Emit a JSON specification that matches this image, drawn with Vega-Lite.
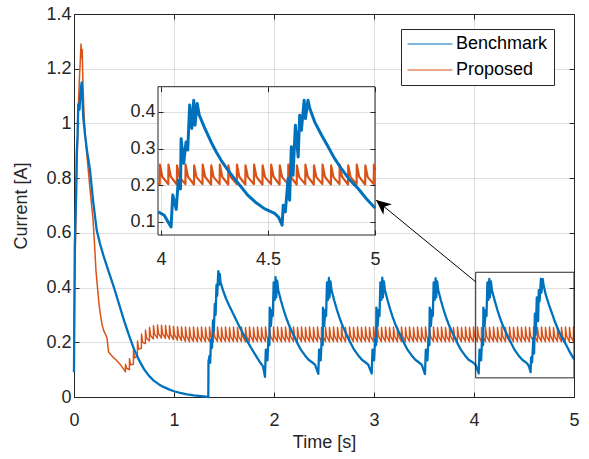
{
"$schema":"https://vega.github.io/schema/vega-lite/v6.json",
"width":500,"height":383,
"autosize":{"type":"none"},
"padding":{"left":74,"top":14,"right":15,"bottom":62},
"background":"white",
"config":{"font":"Liberation Sans","view":{"stroke":"#262626","strokeWidth":1}},
"datasets":{
"bench":[
{"t":0,"v":0.09},{"t":0.004,"v":0.35},{"t":0.008,"v":0.55},{"t":0.012,"v":0.62},{"t":0.02,"v":0.72},{"t":0.027,"v":0.89},{"t":0.035,"v":0.95},{"t":0.043,"v":1.07},{"t":0.055,"v":1.05},{"t":0.065,"v":1.12},{"t":0.077,"v":1.15},{"t":0.085,"v":1.08},{"t":0.093,"v":1.02},{"t":0.11,"v":0.96},{"t":0.13,"v":0.9},{"t":0.16,"v":0.83},{"t":0.19,"v":0.72},{"t":0.227,"v":0.61},{"t":0.26,"v":0.56},{"t":0.3,"v":0.51},{"t":0.35,"v":0.455},{"t":0.4,"v":0.4},{"t":0.45,"v":0.34},{"t":0.5,"v":0.28},{"t":0.55,"v":0.225},{"t":0.6,"v":0.175},{"t":0.65,"v":0.135},{"t":0.7,"v":0.102},{"t":0.75,"v":0.077},{"t":0.8,"v":0.059},{"t":0.85,"v":0.046},{"t":0.9,"v":0.036},{"t":0.95,"v":0.028},{"t":1.0,"v":0.021},{"t":1.06,"v":0.015},{"t":1.13,"v":0.01},{"t":1.2,"v":0.006},{"t":1.27,"v":0.003},{"t":1.343,"v":0.0},
{"t":1.345,"v":0.13},{"t":1.355,"v":0.15},{"t":1.362,"v":0.125},{"t":1.37,"v":0.21},{"t":1.38,"v":0.18},{"t":1.39,"v":0.28},{"t":1.398,"v":0.24},{"t":1.408,"v":0.34},{"t":1.416,"v":0.3},{"t":1.425,"v":0.41},{"t":1.432,"v":0.37},{"t":1.443,"v":0.46},{"t":1.45,"v":0.41},{"t":1.458,"v":0.45},{"t":1.465,"v":0.42},{"t":1.49,"v":0.39},{"t":1.52,"v":0.36},{"t":1.55,"v":0.335},{"t":1.593,"v":0.303},{"t":1.64,"v":0.268},{"t":1.69,"v":0.232},{"t":1.727,"v":0.208},{"t":1.77,"v":0.18},{"t":1.82,"v":0.15},{"t":1.86,"v":0.127},{"t":1.89,"v":0.112},
{"t":1.91,"v":0.074},{"t":1.918,"v":0.173},{"t":1.934,"v":0.134},{"t":1.944,"v":0.214},{"t":1.954,"v":0.19},{"t":1.957,"v":0.327},{"t":1.969,"v":0.26},{"t":1.98,"v":0.318},{"t":1.988,"v":0.296},{"t":1.997,"v":0.419},{"t":2.007,"v":0.355},{"t":2.016,"v":0.438},{"t":2.022,"v":0.364},{"t":2.032,"v":0.425},{"t":2.042,"v":0.391},{"t":2.07,"v":0.352},{"t":2.097,"v":0.318},{"t":2.12,"v":0.292},{"t":2.144,"v":0.268},{"t":2.175,"v":0.242},{"t":2.206,"v":0.218},{"t":2.237,"v":0.195},{"t":2.268,"v":0.173},{"t":2.31,"v":0.152},{"t":2.346,"v":0.136},{"t":2.38,"v":0.127},{"t":2.41,"v":0.118},
{"t":2.443,"v":0.085},{"t":2.451,"v":0.173},{"t":2.467,"v":0.134},{"t":2.477,"v":0.214},{"t":2.487,"v":0.19},{"t":2.49,"v":0.327},{"t":2.502,"v":0.26},{"t":2.513,"v":0.318},{"t":2.521,"v":0.296},{"t":2.53,"v":0.419},{"t":2.54,"v":0.355},{"t":2.549,"v":0.435},{"t":2.555,"v":0.364},{"t":2.565,"v":0.423},{"t":2.575,"v":0.391},{"t":2.603,"v":0.352},{"t":2.63,"v":0.318},{"t":2.653,"v":0.292},{"t":2.677,"v":0.268},{"t":2.708,"v":0.242},{"t":2.739,"v":0.218},{"t":2.77,"v":0.195},{"t":2.801,"v":0.173},{"t":2.843,"v":0.152},{"t":2.879,"v":0.136},{"t":2.913,"v":0.127},{"t":2.943,"v":0.118},
{"t":2.977,"v":0.086},{"t":2.985,"v":0.173},{"t":3.001,"v":0.134},{"t":3.011,"v":0.214},{"t":3.021,"v":0.19},{"t":3.024,"v":0.327},{"t":3.036,"v":0.26},{"t":3.047,"v":0.318},{"t":3.055,"v":0.296},{"t":3.064,"v":0.419},{"t":3.074,"v":0.355},{"t":3.083,"v":0.436},{"t":3.089,"v":0.364},{"t":3.099,"v":0.423},{"t":3.109,"v":0.391},{"t":3.137,"v":0.352},{"t":3.164,"v":0.318},{"t":3.187,"v":0.292},{"t":3.211,"v":0.268},{"t":3.242,"v":0.242},{"t":3.273,"v":0.218},{"t":3.304,"v":0.195},{"t":3.335,"v":0.173},{"t":3.377,"v":0.152},{"t":3.413,"v":0.136},{"t":3.447,"v":0.127},{"t":3.477,"v":0.118},
{"t":3.51,"v":0.084},{"t":3.518,"v":0.173},{"t":3.534,"v":0.134},{"t":3.544,"v":0.214},{"t":3.554,"v":0.19},{"t":3.557,"v":0.327},{"t":3.569,"v":0.26},{"t":3.58,"v":0.318},{"t":3.588,"v":0.296},{"t":3.597,"v":0.419},{"t":3.607,"v":0.355},{"t":3.616,"v":0.434},{"t":3.622,"v":0.364},{"t":3.632,"v":0.423},{"t":3.642,"v":0.391},{"t":3.67,"v":0.352},{"t":3.697,"v":0.318},{"t":3.72,"v":0.292},{"t":3.744,"v":0.268},{"t":3.775,"v":0.242},{"t":3.806,"v":0.218},{"t":3.837,"v":0.195},{"t":3.868,"v":0.173},{"t":3.91,"v":0.152},{"t":3.946,"v":0.136},{"t":3.987,"v":0.127},{"t":4.015,"v":0.118},
{"t":4.047,"v":0.086},{"t":4.055,"v":0.173},{"t":4.071,"v":0.134},{"t":4.081,"v":0.214},{"t":4.091,"v":0.19},{"t":4.094,"v":0.327},{"t":4.106,"v":0.26},{"t":4.117,"v":0.318},{"t":4.125,"v":0.296},{"t":4.134,"v":0.419},{"t":4.144,"v":0.355},{"t":4.153,"v":0.432},{"t":4.159,"v":0.364},{"t":4.169,"v":0.423},{"t":4.179,"v":0.391},{"t":4.205,"v":0.355},{"t":4.234,"v":0.318},{"t":4.257,"v":0.292},{"t":4.281,"v":0.268},{"t":4.31,"v":0.243},{"t":4.343,"v":0.218},{"t":4.375,"v":0.195},{"t":4.405,"v":0.173},{"t":4.445,"v":0.152},{"t":4.483,"v":0.136},{"t":4.531,"v":0.123},{"t":4.55,"v":0.112},{"t":4.566,"v":0.091},
{"t":4.571,"v":0.145},{"t":4.581,"v":0.127},{"t":4.594,"v":0.218},{"t":4.601,"v":0.159},{"t":4.609,"v":0.305},{"t":4.617,"v":0.227},{"t":4.628,"v":0.364},{"t":4.641,"v":0.277},{"t":4.648,"v":0.391},{"t":4.656,"v":0.35},{"t":4.669,"v":0.432},{"t":4.675,"v":0.382},{"t":4.687,"v":0.432},{"t":4.695,"v":0.41},{"t":4.718,"v":0.373},{"t":4.75,"v":0.337},{"t":4.781,"v":0.305},{"t":4.81,"v":0.274},{"t":4.843,"v":0.245},{"t":4.88,"v":0.216},{"t":4.921,"v":0.191},{"t":4.96,"v":0.163},{"t":5.0,"v":0.138}
],
"prop":[
{"t":0,"v":0.13},{"t":0.004,"v":0.3},{"t":0.01,"v":0.48},{"t":0.018,"v":0.62},{"t":0.026,"v":0.8},{"t":0.035,"v":0.92},{"t":0.045,"v":1.08},{"t":0.055,"v":1.17},{"t":0.062,"v":1.22},{"t":0.07,"v":1.29},{"t":0.076,"v":1.24},{"t":0.082,"v":1.27},{"t":0.09,"v":1.14},{"t":0.1,"v":1.04},{"t":0.11,"v":0.97},{"t":0.13,"v":0.88},{"t":0.16,"v":0.76},{"t":0.19,"v":0.65},{"t":0.205,"v":0.56},{"t":0.22,"v":0.46},{"t":0.235,"v":0.4},{"t":0.25,"v":0.34},{"t":0.265,"v":0.3},{"t":0.28,"v":0.265},{"t":0.3,"v":0.24},{"t":0.32,"v":0.225},{"t":0.33,"v":0.215},{"t":0.338,"v":0.19},{"t":0.345,"v":0.165},{"t":0.36,"v":0.158},{"t":0.38,"v":0.15},{"t":0.4,"v":0.142},{"t":0.42,"v":0.136},{"t":0.44,"v":0.128},{"t":0.46,"v":0.12},{"t":0.48,"v":0.11},{"t":0.5,"v":0.1},
{"t":0.514,"v":0.092},{"t":0.515,"v":0.12},{"t":0.526,"v":0.105},
{"t":0.554,"v":0.1},{"t":0.555,"v":0.14},{"t":0.566,"v":0.118},
{"t":0.594,"v":0.12},{"t":0.595,"v":0.17},{"t":0.606,"v":0.143},
{"t":0.634,"v":0.15},{"t":0.635,"v":0.205},{"t":0.646,"v":0.175},
{"t":0.674,"v":0.178},{"t":0.675,"v":0.23},{"t":0.686,"v":0.2},
{"t":0.714,"v":0.195},{"t":0.715,"v":0.245},{"t":0.726,"v":0.215},
{"t":0.754,"v":0.205},{"t":0.755,"v":0.255},{"t":0.766,"v":0.225},
{"t":0.794,"v":0.212},{"t":0.795,"v":0.26},{"t":0.806,"v":0.23},
{"t":0.834,"v":0.215},{"t":0.835,"v":0.263},{"t":0.846,"v":0.232},
{"t":0.874,"v":0.215},{"t":0.875,"v":0.262},{"t":0.886,"v":0.232},
{"t":0.914,"v":0.214},{"t":0.915,"v":0.261},{"t":0.926,"v":0.231},
{"t":0.954,"v":0.212},{"t":0.955,"v":0.26},{"t":0.966,"v":0.229},
{"t":0.994,"v":0.21},{"t":0.995,"v":0.258},{"t":1.006,"v":0.227},
{"t":1.034,"v":0.208},{"t":1.035,"v":0.257},{"t":1.046,"v":0.226},
{"t":1.074,"v":0.206},{"t":1.075,"v":0.256},{"t":1.086,"v":0.225},
{"t":1.114,"v":0.203},{"t":1.115,"v":0.256},{"t":1.126,"v":0.223},
{"t":1.154,"v":0.202},{"t":1.155,"v":0.254},{"t":1.166,"v":0.222},
{"t":1.194,"v":0.203},{"t":1.195,"v":0.256},{"t":1.206,"v":0.223},
{"t":1.234,"v":0.202},{"t":1.235,"v":0.254},{"t":1.246,"v":0.222},
{"t":1.274,"v":0.203},{"t":1.275,"v":0.256},{"t":1.286,"v":0.223},
{"t":1.314,"v":0.202},{"t":1.315,"v":0.254},{"t":1.326,"v":0.222},
{"t":1.354,"v":0.203},{"t":1.355,"v":0.256},{"t":1.366,"v":0.223},
{"t":1.394,"v":0.202},{"t":1.395,"v":0.254},{"t":1.406,"v":0.222},
{"t":1.434,"v":0.203},{"t":1.435,"v":0.256},{"t":1.446,"v":0.223},
{"t":1.474,"v":0.202},{"t":1.475,"v":0.254},{"t":1.486,"v":0.222},
{"t":1.514,"v":0.203},{"t":1.515,"v":0.256},{"t":1.526,"v":0.223},
{"t":1.554,"v":0.202},{"t":1.555,"v":0.254},{"t":1.566,"v":0.222},
{"t":1.594,"v":0.203},{"t":1.595,"v":0.256},{"t":1.606,"v":0.223},
{"t":1.634,"v":0.202},{"t":1.635,"v":0.254},{"t":1.646,"v":0.222},
{"t":1.674,"v":0.203},{"t":1.675,"v":0.256},{"t":1.686,"v":0.223},
{"t":1.714,"v":0.202},{"t":1.715,"v":0.254},{"t":1.726,"v":0.222},
{"t":1.754,"v":0.203},{"t":1.755,"v":0.256},{"t":1.766,"v":0.223},
{"t":1.794,"v":0.202},{"t":1.795,"v":0.254},{"t":1.806,"v":0.222},
{"t":1.834,"v":0.203},{"t":1.835,"v":0.256},{"t":1.846,"v":0.223},
{"t":1.874,"v":0.202},{"t":1.875,"v":0.254},{"t":1.886,"v":0.222},
{"t":1.914,"v":0.203},{"t":1.915,"v":0.256},{"t":1.926,"v":0.223},
{"t":1.954,"v":0.202},{"t":1.955,"v":0.254},{"t":1.966,"v":0.222},
{"t":1.994,"v":0.203},{"t":1.995,"v":0.256},{"t":2.006,"v":0.223},
{"t":2.034,"v":0.203},{"t":2.035,"v":0.256},{"t":2.046,"v":0.223},
{"t":2.074,"v":0.202},{"t":2.075,"v":0.254},{"t":2.086,"v":0.222},
{"t":2.114,"v":0.203},{"t":2.115,"v":0.256},{"t":2.126,"v":0.223},
{"t":2.154,"v":0.202},{"t":2.155,"v":0.254},{"t":2.166,"v":0.222},
{"t":2.194,"v":0.203},{"t":2.195,"v":0.256},{"t":2.206,"v":0.223},
{"t":2.234,"v":0.202},{"t":2.235,"v":0.254},{"t":2.246,"v":0.222},
{"t":2.274,"v":0.203},{"t":2.275,"v":0.256},{"t":2.286,"v":0.223},
{"t":2.314,"v":0.202},{"t":2.315,"v":0.254},{"t":2.326,"v":0.222},
{"t":2.354,"v":0.203},{"t":2.355,"v":0.256},{"t":2.366,"v":0.223},
{"t":2.394,"v":0.202},{"t":2.395,"v":0.254},{"t":2.406,"v":0.222},
{"t":2.434,"v":0.203},{"t":2.435,"v":0.256},{"t":2.446,"v":0.223},
{"t":2.474,"v":0.202},{"t":2.475,"v":0.254},{"t":2.486,"v":0.222},
{"t":2.514,"v":0.203},{"t":2.515,"v":0.256},{"t":2.526,"v":0.223},
{"t":2.554,"v":0.202},{"t":2.555,"v":0.254},{"t":2.566,"v":0.222},
{"t":2.594,"v":0.203},{"t":2.595,"v":0.256},{"t":2.606,"v":0.223},
{"t":2.634,"v":0.202},{"t":2.635,"v":0.254},{"t":2.646,"v":0.222},
{"t":2.674,"v":0.203},{"t":2.675,"v":0.256},{"t":2.686,"v":0.223},
{"t":2.714,"v":0.202},{"t":2.715,"v":0.254},{"t":2.726,"v":0.222},
{"t":2.754,"v":0.203},{"t":2.755,"v":0.256},{"t":2.766,"v":0.223},
{"t":2.794,"v":0.202},{"t":2.795,"v":0.254},{"t":2.806,"v":0.222},
{"t":2.834,"v":0.203},{"t":2.835,"v":0.256},{"t":2.846,"v":0.223},
{"t":2.874,"v":0.202},{"t":2.875,"v":0.254},{"t":2.886,"v":0.222},
{"t":2.914,"v":0.203},{"t":2.915,"v":0.256},{"t":2.926,"v":0.223},
{"t":2.954,"v":0.202},{"t":2.955,"v":0.254},{"t":2.966,"v":0.222},
{"t":2.994,"v":0.203},{"t":2.995,"v":0.256},{"t":3.006,"v":0.223},
{"t":3.034,"v":0.203},{"t":3.035,"v":0.256},{"t":3.046,"v":0.223},
{"t":3.074,"v":0.202},{"t":3.075,"v":0.254},{"t":3.086,"v":0.222},
{"t":3.114,"v":0.203},{"t":3.115,"v":0.256},{"t":3.126,"v":0.223},
{"t":3.154,"v":0.202},{"t":3.155,"v":0.254},{"t":3.166,"v":0.222},
{"t":3.194,"v":0.203},{"t":3.195,"v":0.256},{"t":3.206,"v":0.223},
{"t":3.234,"v":0.202},{"t":3.235,"v":0.254},{"t":3.246,"v":0.222},
{"t":3.274,"v":0.203},{"t":3.275,"v":0.256},{"t":3.286,"v":0.223},
{"t":3.314,"v":0.202},{"t":3.315,"v":0.254},{"t":3.326,"v":0.222},
{"t":3.354,"v":0.203},{"t":3.355,"v":0.256},{"t":3.366,"v":0.223},
{"t":3.394,"v":0.202},{"t":3.395,"v":0.254},{"t":3.406,"v":0.222},
{"t":3.434,"v":0.203},{"t":3.435,"v":0.256},{"t":3.446,"v":0.223},
{"t":3.474,"v":0.202},{"t":3.475,"v":0.254},{"t":3.486,"v":0.222},
{"t":3.514,"v":0.203},{"t":3.515,"v":0.256},{"t":3.526,"v":0.223},
{"t":3.554,"v":0.202},{"t":3.555,"v":0.254},{"t":3.566,"v":0.222},
{"t":3.594,"v":0.203},{"t":3.595,"v":0.256},{"t":3.606,"v":0.223},
{"t":3.634,"v":0.202},{"t":3.635,"v":0.254},{"t":3.646,"v":0.222},
{"t":3.674,"v":0.203},{"t":3.675,"v":0.256},{"t":3.686,"v":0.223},
{"t":3.714,"v":0.202},{"t":3.715,"v":0.254},{"t":3.726,"v":0.222},
{"t":3.754,"v":0.203},{"t":3.755,"v":0.256},{"t":3.766,"v":0.223},
{"t":3.794,"v":0.202},{"t":3.795,"v":0.254},{"t":3.806,"v":0.222},
{"t":3.834,"v":0.203},{"t":3.835,"v":0.256},{"t":3.846,"v":0.223},
{"t":3.874,"v":0.202},{"t":3.875,"v":0.254},{"t":3.886,"v":0.222},
{"t":3.914,"v":0.203},{"t":3.915,"v":0.256},{"t":3.926,"v":0.223},
{"t":3.954,"v":0.202},{"t":3.955,"v":0.254},{"t":3.966,"v":0.222},{"t":3.986,"v":0.206},
{"t":3.994,"v":0.203},{"t":3.995,"v":0.256},{"t":4.006,"v":0.223},
{"t":4.034,"v":0.203},{"t":4.035,"v":0.256},{"t":4.046,"v":0.223},
{"t":4.074,"v":0.202},{"t":4.075,"v":0.254},{"t":4.086,"v":0.222},
{"t":4.114,"v":0.203},{"t":4.115,"v":0.256},{"t":4.126,"v":0.223},
{"t":4.154,"v":0.202},{"t":4.155,"v":0.254},{"t":4.166,"v":0.222},
{"t":4.194,"v":0.203},{"t":4.195,"v":0.256},{"t":4.206,"v":0.223},
{"t":4.234,"v":0.202},{"t":4.235,"v":0.254},{"t":4.246,"v":0.222},
{"t":4.274,"v":0.203},{"t":4.275,"v":0.256},{"t":4.286,"v":0.223},
{"t":4.314,"v":0.202},{"t":4.315,"v":0.254},{"t":4.326,"v":0.222},
{"t":4.354,"v":0.203},{"t":4.355,"v":0.256},{"t":4.366,"v":0.223},
{"t":4.394,"v":0.202},{"t":4.395,"v":0.254},{"t":4.406,"v":0.222},
{"t":4.434,"v":0.203},{"t":4.435,"v":0.256},{"t":4.446,"v":0.223},
{"t":4.474,"v":0.202},{"t":4.475,"v":0.254},{"t":4.486,"v":0.222},
{"t":4.514,"v":0.203},{"t":4.515,"v":0.256},{"t":4.526,"v":0.223},
{"t":4.554,"v":0.202},{"t":4.555,"v":0.254},{"t":4.566,"v":0.222},
{"t":4.594,"v":0.203},{"t":4.595,"v":0.256},{"t":4.606,"v":0.223},
{"t":4.634,"v":0.202},{"t":4.635,"v":0.254},{"t":4.646,"v":0.222},
{"t":4.674,"v":0.203},{"t":4.675,"v":0.256},{"t":4.686,"v":0.223},
{"t":4.714,"v":0.202},{"t":4.715,"v":0.254},{"t":4.726,"v":0.222},
{"t":4.754,"v":0.203},{"t":4.755,"v":0.256},{"t":4.766,"v":0.223},
{"t":4.794,"v":0.202},{"t":4.795,"v":0.254},{"t":4.806,"v":0.222},
{"t":4.834,"v":0.203},{"t":4.835,"v":0.256},{"t":4.846,"v":0.223},
{"t":4.874,"v":0.202},{"t":4.875,"v":0.254},{"t":4.886,"v":0.222},
{"t":4.914,"v":0.203},{"t":4.915,"v":0.256},{"t":4.926,"v":0.223},
{"t":4.954,"v":0.202},{"t":4.955,"v":0.254},{"t":4.966,"v":0.222},
{"t":4.994,"v":0.203},{"t":4.995,"v":0.256},{"t":5.0,"v":0.24}
],
"zoombox":[{"t":4.017,"t2":5,"v":0.07,"v2":0.456}],
"arrow":[{"t":4.017,"v":0.421},{"t":3.02,"v":0.72}],
"insetframe":[{"t":3.986,"t2":5,"v":0.064,"v2":0.469}]
},
"layer":[
{
"layer":[
{"data":{"name":"prop"},"mark":{"type":"line","strokeWidth":1.5,"strokeJoin":"round"},
"encoding":{
"x":{"field":"t","type":"quantitative","scale":{"domain":[0,5],"nice":false,"zero":false},
"axis":{"orient":"bottom","values":[0,1,2,3,4,5],"format":"~g","title":"Time [s]","grid":true,"gridColor":"#262626","gridOpacity":0.15,"domain":false,"tickSize":-5,"tickColor":"#262626","labelFontSize":18,"labelColor":"#262626","labelPadding":19,"labelFlush":false,"labelOverlap":false,"titleFontSize":18,"titleFontWeight":"normal","titleColor":"#262626","titlePadding":4,"zindex":0}},
"y":{"field":"v","type":"quantitative","scale":{"domain":[0,1.4],"nice":false,"zero":false},
"axis":{"orient":"left","values":[0,0.2,0.4,0.6,0.8,1,1.2,1.4],"format":"~g","title":"Current [A]","grid":true,"gridColor":"#262626","gridOpacity":0.15,"domain":false,"tickSize":-5,"tickColor":"#262626","labelFontSize":18,"labelColor":"#262626","labelPadding":8,"labelFlush":false,"labelOverlap":false,"titleFontSize":18,"titleFontWeight":"normal","titleColor":"#262626","titlePadding":15,"zindex":0}},
"color":{"datum":"Proposed","type":"nominal","scale":{"domain":["Benchmark","Proposed"],"range":["#0072BD","#D95319"]},
"legend":{"orient":"none","legendX":327,"legendY":15,"title":null,"symbolType":"M-3,0L3,0","symbolSize":225,"symbolOffset":14,"symbolStrokeWidth":1,"labelFontSize":18,"labelColor":"#000000","labelOffset":17,"padding":6,"rowPadding":8,"strokeColor":"#262626","fillColor":"white","labelLimit":300}}
}},
{"data":{"name":"bench"},"mark":{"type":"line","strokeWidth":2.3,"strokeJoin":"round"},
"encoding":{
"x":{"field":"t","type":"quantitative","axis":null},
"y":{"field":"v","type":"quantitative","axis":null},
"color":{"datum":"Benchmark","type":"nominal"}
}},
{"data":{"name":"zoombox"},"mark":{"type":"rect","filled":false,"color":"#262626","strokeWidth":1},
"encoding":{
"x":{"field":"t","type":"quantitative","axis":{"orient":"top","values":[0,1,2,3,4,5],"labels":false,"grid":false,"domain":false,"tickSize":-5,"tickColor":"#262626","title":null,"zindex":0}},
"x2":{"field":"t2"},
"y":{"field":"v","type":"quantitative","axis":{"orient":"right","values":[0,0.2,0.4,0.6,0.8,1,1.2,1.4],"labels":false,"grid":false,"domain":false,"tickSize":-5,"tickColor":"#262626","title":null,"zindex":0}},
"y2":{"field":"v2"}
}},
{"data":{"name":"arrow"},"mark":{"type":"line","color":"#000000","strokeWidth":1},
"encoding":{
"x":{"field":"t","type":"quantitative","axis":null},
"y":{"field":"v","type":"quantitative","axis":null}
}},
{"data":{"name":"arrow"},"transform":[{"filter":"datum.t < 3.5"}],
"mark":{"type":"point","shape":"M0,0L-0.45,1L0,0.72L0.45,1Z","angle":309.3,"size":900,"filled":true,"color":"#000000","opacity":1},
"encoding":{
"x":{"field":"t","type":"quantitative","axis":null},
"y":{"field":"v","type":"quantitative","axis":null}
}}
],
"resolve":{"axis":{"x":"independent","y":"independent"}}
},
{
"layer":[
{"data":{"name":"insetframe"},"mark":{"type":"rect","fill":"white","stroke":"#262626","strokeWidth":1},
"encoding":{
"x":{"field":"t","type":"quantitative","scale":{"domain":[3.986,5],"range":[84,301],"nice":false,"zero":false},
"axis":{"orient":"top","offset":-72.7,"values":[4,4.5,5],"labels":false,"grid":true,"gridColor":"#262626","gridOpacity":0.15,"domain":false,"tickSize":-5,"tickColor":"#262626","title":null,"zindex":1}},
"x2":{"field":"t2"},
"y":{"field":"v","type":"quantitative","scale":{"domain":[0.064,0.469],"range":[221,72.7],"nice":false,"zero":false},
"axis":{"orient":"right","offset":-199,"values":[0.1,0.2,0.3,0.4],"labels":false,"grid":false,"domain":false,"tickSize":-5,"tickColor":"#262626","title":null,"zindex":1}},
"y2":{"field":"v2"}
}},
{"data":{"name":"prop"},"transform":[{"filter":"datum.t >= 3.986"}],"mark":{"type":"line","strokeWidth":2.2,"strokeJoin":"round"},
"encoding":{
"x":{"field":"t","type":"quantitative","axis":{"orient":"bottom","offset":-162,"values":[4,4.5,5],"format":"~g","grid":false,"domain":false,"tickSize":-5,"tickColor":"#262626","labelFontSize":18,"labelColor":"#262626","labelPadding":20,"labelFlush":false,"labelOverlap":false,"title":null,"zindex":1}},
"y":{"field":"v","type":"quantitative","axis":{"orient":"left","offset":-84,"values":[0.1,0.2,0.3,0.4],"format":"~g","grid":true,"gridColor":"#262626","gridOpacity":0.15,"domain":false,"tickSize":-5,"tickColor":"#262626","labelFontSize":18,"labelColor":"#262626","labelPadding":8,"labelFlush":false,"labelOverlap":false,"title":null,"zindex":1}},
"color":{"datum":"Proposed","type":"nominal"}
}},
{"data":{"name":"bench"},"transform":[{"filter":"datum.t >= 3.986"}],"mark":{"type":"line","strokeWidth":3,"strokeJoin":"round"},
"encoding":{
"x":{"field":"t","type":"quantitative","axis":null},
"y":{"field":"v","type":"quantitative","axis":null},
"color":{"datum":"Benchmark","type":"nominal"}
}}
],
"resolve":{"axis":{"x":"independent","y":"independent"}}
}
],
"resolve":{"scale":{"x":"independent","y":"independent"}}
}
